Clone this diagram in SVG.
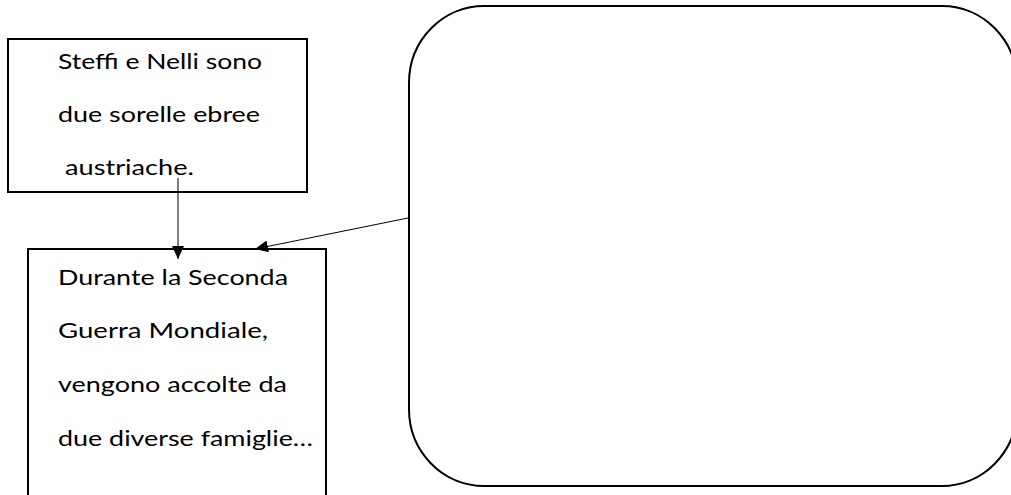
<svg xmlns="http://www.w3.org/2000/svg" width="1011" height="495" viewBox="0 0 1011 495">
  <style>
    .box { fill: #ffffff; stroke: #000000; stroke-width: 2; }
    .conn { fill: none; stroke: #000000; stroke-width: 1; }
    .t { font-family: "Lato", "Liberation Sans", sans-serif; font-size: 22px; fill: #000000; }
  </style>
  <defs>
    <marker id="arrow" markerUnits="userSpaceOnUse" markerWidth="13" markerHeight="12" refX="13" refY="6" orient="auto">
      <path d="M0,0 L13,6 L0,12 z" fill="#000000"/>
    </marker>
  </defs>
  <rect width="1011" height="495" fill="#ffffff"/>

  <g id="node-steffi">
    <rect class="box" x="8" y="39" width="299" height="153"/>
    <text class="t" x="58" y="69" textLength="204" lengthAdjust="spacingAndGlyphs">Steffi e Nelli sono</text>
    <text class="t" x="58" y="122" textLength="202" lengthAdjust="spacingAndGlyphs">due sorelle ebree</text>
    <text class="t" x="65" y="175" textLength="129" lengthAdjust="spacingAndGlyphs">austriache.</text>
  </g>

  <g id="node-guerra">
    <rect class="box" x="28" y="249" width="298" height="260"/>
    <text class="t" x="58" y="285" textLength="230" lengthAdjust="spacingAndGlyphs">Durante la Seconda</text>
    <text class="t" x="58" y="338" textLength="210" lengthAdjust="spacingAndGlyphs">Guerra Mondiale,</text>
    <text class="t" x="58" y="392" textLength="229" lengthAdjust="spacingAndGlyphs">vengono accolte da</text>
    <text class="t" x="58" y="446" textLength="255" lengthAdjust="spacingAndGlyphs">due diverse famiglie…</text>
  </g>

  <g id="node-rounded">
    <rect class="box" x="409" y="6" width="608" height="480" rx="75" ry="77"/>
  </g>

  <g id="connectors">
    <line class="conn" x1="178" y1="178" x2="178" y2="259" marker-end="url(#arrow)"/>
    <line class="conn" x1="408" y1="218" x2="255" y2="249" marker-end="url(#arrow)"/>
  </g>
</svg>
